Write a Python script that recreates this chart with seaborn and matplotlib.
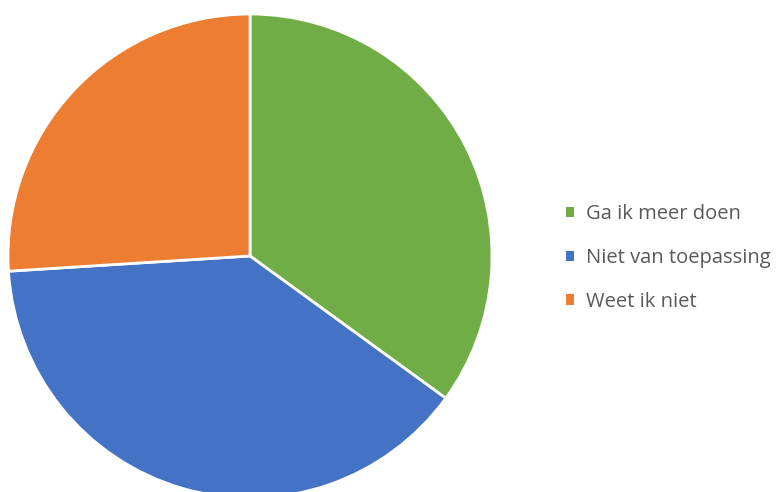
import matplotlib
matplotlib.use('Agg')
import matplotlib.pyplot as plt
import seaborn as sns
from matplotlib.patches import Patch

# data
labels = ['Ga ik meer doen', 'Niet van toepassing', 'Weet ik niet']
values = [35, 39, 26]
colors = ['#70AD47', '#4472C4', '#ED7D31']

sns.set_theme(style='white')
plt.rcParams['font.family'] = ['Open Sans', 'DejaVu Sans']

fig = plt.figure(figsize=(7.78, 4.92), dpi=100)
ax = fig.add_axes([8 / 778, -6 / 492, 484 / 778, 484 / 492])
ax.pie(values, colors=colors, startangle=90, counterclock=False,
       wedgeprops=dict(edgecolor='white', linewidth=2), radius=1.0)
ax.set_xlim(-1, 1)
ax.set_ylim(-1, 1)
ax.set_aspect('equal')
ax.axis('off')

handles = [Patch(facecolor=c, edgecolor='none', label=l) for c, l in zip(colors, labels)]
fig.legend(handles=handles, loc='center left', bbox_to_anchor=(566 / 778, 1 - 258 / 492),
           frameon=False, fontsize=14.5, labelcolor='#595959',
           handlelength=0.42, handleheight=0.42, handletextpad=0.55, labelspacing=1.17,
           borderpad=0, borderaxespad=0)

fig.savefig('out.png', dpi=100)
